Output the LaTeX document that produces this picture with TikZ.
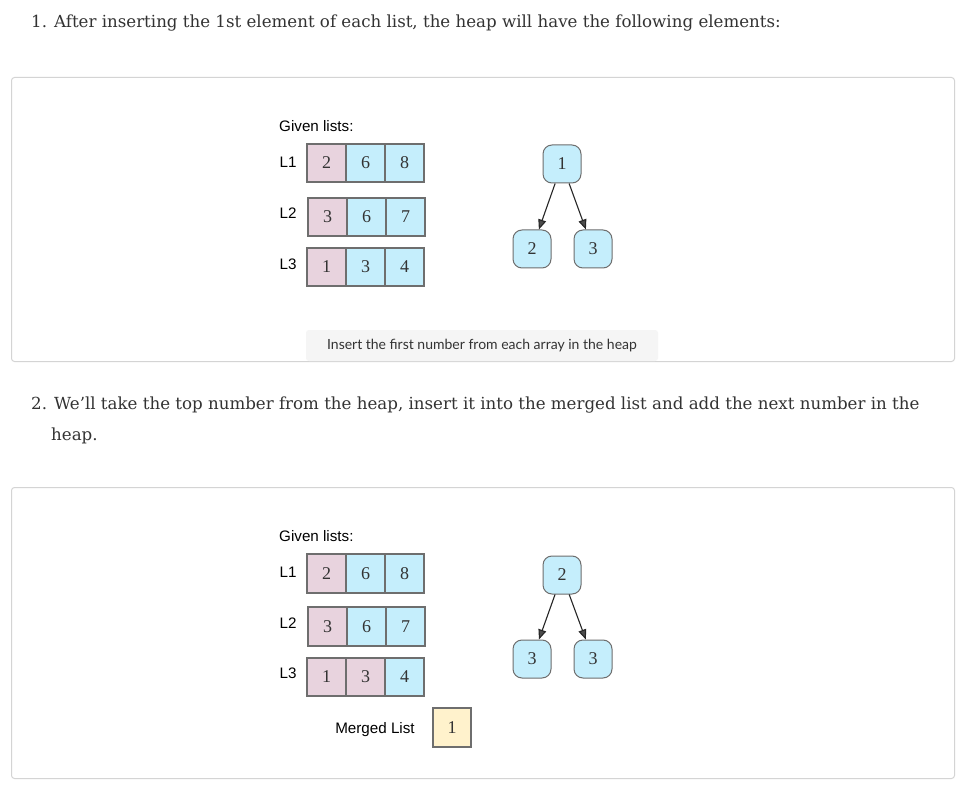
\documentclass[tikz,border=0pt]{standalone}
\usepackage{fontspec}
\setmainfont{DejaVu Serif}
\newfontfamily\arialf{Liberation Sans}
\newfontfamily\capf{Lato}
\newfontfamily\digf{Liberation Serif}
\usetikzlibrary{arrows.meta}
\definecolor{pinkc}{HTML}{E8D3DE}
\definecolor{bluec}{HTML}{C5EEFC}
\definecolor{yellc}{HTML}{FFF2CC}
\definecolor{cellborder}{HTML}{6E6E6E}
\definecolor{panelborder}{HTML}{D4D4D4}
\definecolor{txt}{HTML}{333333}
\definecolor{capbg}{HTML}{F5F5F5}
\tikzset{
  panel/.style={draw=panelborder, line width=1pt, rounded corners=3pt},
  cell/.style={draw=cellborder, line width=1.6pt, minimum width=38.5pt, minimum height=38.5pt, inner sep=0pt, font=\digf\fontsize{18}{18}\selectfont, text=txt},
  pcell/.style={cell, fill=pinkc},
  bcell/.style={cell, fill=bluec},
  ycell/.style={cell, fill=yellc},
  hnode/.style={draw=cellborder, line width=1pt, fill=bluec, rounded corners=9pt, minimum width=38pt, minimum height=38pt, inner sep=0pt, font=\digf\fontsize{18}{18}\selectfont, text=txt},
  lbl/.style={font=\arialf\fontsize{15.2}{15.2}\selectfont, text=black, inner sep=0pt},
  heading/.style={font=\fontsize{16.65}{20}\selectfont, text=txt, inner sep=0pt, anchor=base west},
  harrow/.style={draw=black!85, line width=1.1pt, -{Triangle[length=10pt,width=8pt,fill=black!70]}},
  caption/.style={fill=capbg, rounded corners=3pt, minimum width=352pt, minimum height=31pt, inner sep=0pt, font=\capf\fontsize{14}{14}\selectfont, text=txt}
}
\begin{document}
\begin{tikzpicture}[x=1pt,y=-1pt]
\useasboundingbox[fill=white] (0,0) rectangle (966,786);

% headings
\node[heading] (h1) at (31,28) {1. After inserting the 1st element of each list, the heap will have the following elements:};
\node[heading] (h2) at (31,409) {2. We'll take the top number from the heap, insert it into the merged list and add the next number in the};
\node[heading] (h2b) at (51,440) {heap.};

% panels
\draw[panel] (11.5,77.5) rectangle (954.5,361.5);
\draw[panel] (11.5,487.5) rectangle (954.5,778.5);

% ---------- panel 1 ----------
\node[lbl, anchor=west] (g1) at (279,126) {Given lists:};
\node[lbl] (l11) at (288,162) {L1};
\node[lbl] (l12) at (288,213) {L2};
\node[lbl] (l13) at (288,264) {L3};

\node[pcell] (a11) at (326.5,163) {2};
\node[bcell] (a12) at (365.5,163) {6};
\node[bcell] (a13) at (404.5,163) {8};
\node[pcell] (a21) at (327.5,217) {3};
\node[bcell] (a22) at (366.5,217) {6};
\node[bcell] (a23) at (405.5,217) {7};
\node[pcell] (a31) at (326.5,267) {1};
\node[bcell] (a32) at (365.5,267) {3};
\node[bcell] (a33) at (404.5,267) {4};

\node[hnode] (t1) at (562,164) {1};
\node[hnode] (t2) at (532,249) {2};
\node[hnode] (t3) at (593,249) {3};
\draw[harrow] (t1) -- (t2);
\draw[harrow] (t1) -- (t3);

\node[caption] (cap) at (482,345.5) {Insert the first number from each array in the heap};

% ---------- panel 2 ----------
\node[lbl, anchor=west] (g2) at (279,536) {Given lists:};
\node[lbl] (m11) at (288,572) {L1};
\node[lbl] (m12) at (288,623) {L2};
\node[lbl] (m13) at (288,673) {L3};

\node[pcell] (b11) at (326.5,573.5) {2};
\node[bcell] (b12) at (365.5,573.5) {6};
\node[bcell] (b13) at (404.5,573.5) {8};
\node[pcell] (b21) at (327.5,626.5) {3};
\node[bcell] (b22) at (366.5,626.5) {6};
\node[bcell] (b23) at (405.5,626.5) {7};
\node[pcell] (b31) at (326.5,677) {1};
\node[pcell] (b32) at (365.5,677) {3};
\node[bcell] (b33) at (404.5,677) {4};

\node[lbl] (ml) at (375,730) {Merged List};
\node[ycell] (mc) at (452,727.5) {1};

\node[hnode] (u1) at (562,575) {2};
\node[hnode] (u2) at (532,659) {3};
\node[hnode] (u3) at (593,659) {3};
\draw[harrow] (u1) -- (u2);
\draw[harrow] (u1) -- (u3);
\end{tikzpicture}
\end{document}
